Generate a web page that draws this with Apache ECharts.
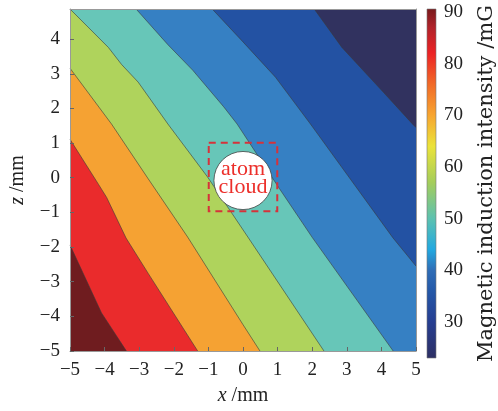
<!DOCTYPE html>
<html>
<head>
<meta charset="utf-8">
<script src="https://cdn.jsdelivr.net/npm/echarts@6/dist/echarts.min.js"></script>
<style>
    html, body { margin: 0; padding: 0; background: #fff; }
    #chart { width: 498px; height: 411px; }
</style>
</head>
<body>
<div id="chart"></div>
<script>
// plot extent (mm)
var xRange = [-5, 5];
var zRange = [-5, 4.87];
var zTicks = [-5, -4, -3, -2, -1, 0, 1, 2, 3, 4];

// contour boundaries, from the weakest field (top right) to the strongest (bottom left)
var line7 = [[2.06, 4.87], [2.86, 3.76], [4.0, 2.53], [4.91, 1.54], [5, 1.45]];
var line6 = [[-0.89, 4.87], [0, 3.92], [0.94, 2.9], [1.95, 1.55], [4.33, -1.73], [5, -2.55]];
var line5 = [[-3.09, 4.87], [-2.17, 3.84], [-1.45, 3.1], [-0.56, 2.05], [-0.17, 1.55], [1.05, -0.31], [2.0, -1.72], [4.34, -5]];
var line4 = [[-5, 4.87], [-3.89, 3.76], [-3.51, 3.27], [-3.03, 2.76], [-2.17, 1.55], [-1.03, 0.03], [0.14, -1.71], [2.34, -5]];
var line3 = [[-5, 3.16], [-3.8, 1.55], [-2.74, -0.03], [-1.6, -1.71], [0, -4.24], [0.49, -5]];
var line2 = [[-5, 1.11], [-4.17, -0.2], [-3.94, -0.57], [-3.38, -1.74], [-2.74, -2.76], [-1.31, -5]];
var line1 = [[-5, -1.94], [-4.09, -3.9], [-3.37, -5]];
var contourLines = [line7, line6, line5, line4, line3, line2, line1];

// band colours, weakest first
var bandColors = ['#31325f', '#2352a3', '#3680c3', '#67c6b8', '#afd35c', '#f5a233', '#ea2b2c', '#6f1c1f'];

// colour bar
var barRange = [23, 90.6];
var barTicks = [30, 40, 50, 60, 70, 80, 90];
var barStops = [
    [23, '#2d2f63'], [30, '#263e91'], [36, '#2458a8'], [40, '#2f6db6'], [44, '#22a8e0'],
    [50, '#5cc1b0'], [57, '#a4cd5b'], [64, '#ebe33a'], [70, '#f7a530'], [76, '#f16a28'],
    [82, '#ec2225'], [87, '#b0232a'], [90.6, '#781a1c']
];

// atom cloud marker
var cloudCenter = [0, -0.08];
var cloudRadius = 0.84;
var boxCenter = [0, 0.02];
var boxHalf = 0.99;

var serif = 'Liberation Serif';

function sidePolygon(line) {
    var pts = line.slice();
    var start = line[0];
    var end = line[line.length - 1];
    if (end[0] >= xRange[1]) pts.push([xRange[1], zRange[0]]);
    pts.push([xRange[0], zRange[0]]);
    if (start[1] >= zRange[1]) pts.push([xRange[0], zRange[1]]);
    return pts;
}

var bandData = [];
for (var i = 0; i < bandColors.length; i++) bandData.push([i]);

var chart = echarts.init(document.getElementById('chart'));

var series = [{
    type: 'custom',
    xAxisIndex: 0,
    yAxisIndex: 0,
    silent: true,
    data: bandData,
    encode: { x: -1, y: -1 },
    renderItem: function (params, api) {
        var k = api.value(0);
        var pts;
        if (k === 0) {
            pts = [[xRange[0], zRange[0]], [xRange[1], zRange[0]], [xRange[1], zRange[1]], [xRange[0], zRange[1]]];
        } else {
            pts = sidePolygon(contourLines[k - 1]);
        }
        return {
            type: 'polygon',
            shape: { points: pts.map(function (p) { return api.coord(p); }) },
            style: { fill: bandColors[k], stroke: null }
        };
    },
    z: 1
}];

contourLines.forEach(function (ln) {
    series.push({
        type: 'line',
        xAxisIndex: 0,
        yAxisIndex: 0,
        data: ln,
        symbol: 'none',
        silent: true,
        lineStyle: { color: '#3a3a3a', width: 0.7, opacity: 0.85 },
        z: 2
    });
});

// atom cloud box + circle + label
series.push({
    type: 'custom',
    xAxisIndex: 0,
    yAxisIndex: 0,
    silent: true,
    data: [cloudCenter],
    renderItem: function (params, api) {
        var c = api.coord([api.value(0), api.value(1)]);
        var b = api.coord(boxCenter);
        var box = api.size([boxHalf * 2, boxHalf * 2]);
        var r = api.size([cloudRadius * 2, 0])[0] / 2;
        return {
            type: 'group',
            children: [{
                type: 'rect',
                shape: { x: b[0] - box[0] / 2, y: b[1] - box[1] / 2, width: box[0], height: box[1] },
                style: { fill: null, stroke: '#d6323a', lineWidth: 2, lineDash: [7, 5] }
            }, {
                type: 'circle',
                shape: { cx: c[0], cy: c[1], r: r },
                style: { fill: '#fff', stroke: '#444', lineWidth: 0.8 }
            }, {
                type: 'text',
                x: c[0], y: c[1] - 11,
                style: { text: 'atom', fill: '#ec2f2a', font: '22px ' + serif, align: 'center', verticalAlign: 'middle' }
            }, {
                type: 'text',
                x: c[0], y: c[1] + 7,
                style: { text: 'cloud', fill: '#ec2f2a', font: '22px ' + serif, align: 'center', verticalAlign: 'middle' }
            }]
        };
    },
    z: 3
});

// colour bar
series.push({
    type: 'custom',
    xAxisIndex: 1,
    yAxisIndex: 1,
    silent: true,
    data: [[0]],
    encode: { x: -1, y: -1 },
    renderItem: function (params, api) {
        var top = api.coord([0, barRange[1]]);
        var bot = api.coord([1, barRange[0]]);
        var span = barRange[1] - barRange[0];
        var stops = barStops.map(function (s) {
            return { offset: (barRange[1] - s[0]) / span, color: s[1] };
        }).reverse();
        return {
            type: 'rect',
            shape: { x: top[0], y: top[1], width: bot[0] - top[0], height: bot[1] - top[1] },
            style: {
                fill: new echarts.graphic.LinearGradient(0, 0, 0, 1, stops),
                stroke: '#777', lineWidth: 0.6
            }
        };
    }
});

function minusFmt(v) {
    return String(v).replace('-', '\u2212');
}

var frameLine = { show: true, onZero: false, lineStyle: { color: '#999', width: 1 } };

var option = {
    backgroundColor: '#fff',
    animation: false,
    grid: [
        { left: 65, right: 82, top: 9, bottom: 54 },
        { left: 427, width: 13, top: 9, bottom: 53 }
    ],
    xAxis: [{
        type: 'value',
        gridIndex: 0,
        min: xRange[0],
        max: xRange[1],
        interval: 1,
        name: '{i|x} /mm',
        nameLocation: 'middle',
        nameGap: 35,
        nameTextStyle: {
            fontFamily: serif, fontSize: 20, color: '#222',
            rich: { i: { fontFamily: serif, fontStyle: 'italic', fontSize: 20, color: '#222' } }
        },
        axisLine: frameLine,
        axisTick: { inside: true, length: 4, lineStyle: { color: '#666' } },
        axisLabel: { fontFamily: serif, fontSize: 19, color: '#222', margin: 10, formatter: minusFmt },
        splitLine: { show: false },
        z: 5
    }, {
        type: 'value',
        gridIndex: 1,
        min: 0,
        max: 1,
        show: false
    }, {
        type: 'value',
        gridIndex: 0,
        position: 'top',
        min: xRange[0],
        max: xRange[1],
        axisLine: frameLine,
        axisTick: { show: false },
        axisLabel: { show: false },
        splitLine: { show: false },
        z: 5
    }],
    yAxis: [{
        type: 'value',
        gridIndex: 0,
        min: zRange[0],
        max: zRange[1],
        name: '{i|z} /mm',
        nameLocation: 'middle',
        nameGap: 42,
        nameRotate: 90,
        nameTextStyle: {
            fontFamily: serif, fontSize: 20, color: '#222',
            rich: { i: { fontFamily: serif, fontStyle: 'italic', fontSize: 20, color: '#222' } }
        },
        axisLine: frameLine,
        axisTick: { inside: true, length: 4, lineStyle: { color: '#666' }, customValues: zTicks },
        axisLabel: { fontFamily: serif, fontSize: 19, color: '#222', margin: 10, formatter: minusFmt, customValues: zTicks },
        splitLine: { show: false },
        z: 5
    }, {
        type: 'value',
        gridIndex: 1,
        min: barRange[0],
        max: barRange[1],
        position: 'right',
        name: 'Magnetic induction intensity /mG',
        nameLocation: 'middle',
        nameGap: 40,
        nameRotate: 90,
        nameTextStyle: { fontFamily: 'DejaVu Serif', fontSize: 21, color: '#222' },
        axisLine: { show: false },
        axisTick: { show: false, customValues: barTicks },
        axisLabel: { fontFamily: serif, fontSize: 19, color: '#222', margin: 8, customValues: barTicks },
        splitLine: { show: false }
    }, {
        type: 'value',
        gridIndex: 0,
        position: 'right',
        min: zRange[0],
        max: zRange[1],
        axisLine: frameLine,
        axisTick: { show: false },
        axisLabel: { show: false },
        splitLine: { show: false },
        z: 5
    }],
    series: series
};

chart.setOption(option);
</script>
</body>
</html>
